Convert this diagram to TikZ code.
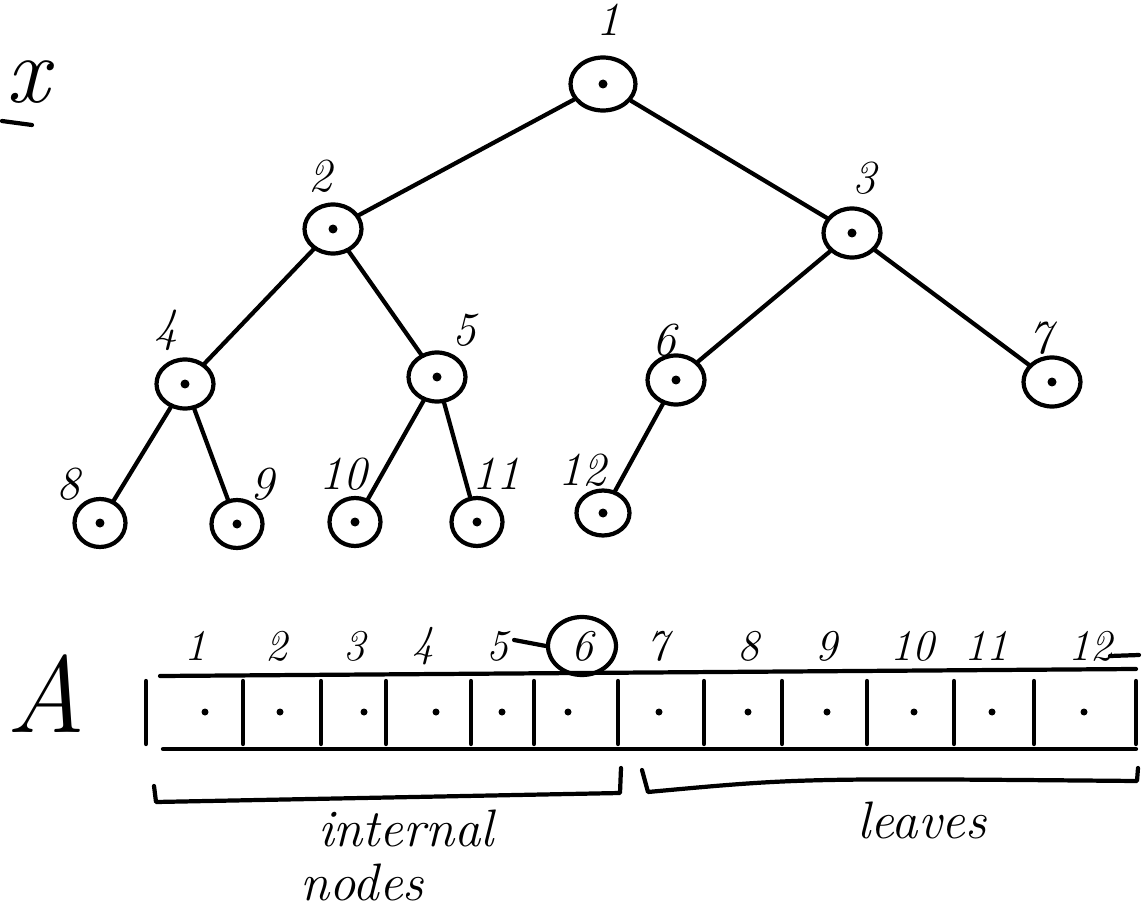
\documentclass[tikz,border=0pt]{standalone}
\usetikzlibrary{shapes.geometric}
\begin{document}
\begin{tikzpicture}[x=0.02cm,y=-0.02cm,
  line width=2.4pt, line cap=round, line join=round,
  treenode/.style={draw, ellipse, minimum width=1.14cm, minimum height=0.98cm, inner sep=0pt},
  rootnode/.style={treenode, minimum width=1.3cm, minimum height=1.06cm},
  leafnode/.style={treenode, minimum width=1.02cm, minimum height=0.96cm},
  lbl/.style={font=\fontsize{27}{30}\selectfont\itshape, inner sep=0pt},
  idx/.style={font=\fontsize{25}{28}\selectfont\itshape, inner sep=0pt},
  word/.style={font=\fontsize{30}{33}\selectfont\itshape, inner sep=0pt},
  edge/.style={draw}]
\useasboundingbox (0,0) rectangle (1144,909);

% variable name, underlined
\node[font=\fontsize{54}{58}\selectfont\itshape, inner sep=0pt] (xv) at (28,82) {x};
\coordinate (xul) at (2,121);
\coordinate (xur) at (32,125);
\draw (xul) -- (xur);

% tree nodes
\node[rootnode] (t1) at (603,84) {};
\node[treenode] (t2) at (333,229) {};
\node[treenode] (t3) at (852,233) {};
\node[treenode] (t4) at (185,384) {};
\node[treenode] (t5) at (437,377) {};
\node[treenode] (t6) at (676,380) {};
\node[treenode] (t7) at (1052,382) {};
\node[leafnode] (t8) at (100,523) {};
\node[leafnode] (t9) at (237,524) {};
\node[leafnode] (t10) at (355,522) {};
\node[leafnode] (t11) at (477,522) {};
\node[leafnode, minimum width=1.06cm, minimum height=0.9cm] (t12) at (603,513) {};
\foreach \i in {1,...,12} \fill (t\i.center) circle (0.09cm);

% edges
\foreach \a/\b in {1/2,1/3,2/4,2/5,3/6,3/7,4/8,4/9,5/10,5/11,6/12}
  \path[edge] (t\a) -- (t\b);

% node numbers
\node[lbl] (n1) at (608,20) {1};
\node[lbl] (n2) at (320,176) {2};
\node[lbl] (n3) at (864,178) {3};
\node[lbl] (n4) at (166,330) {4};
\node[lbl] (n5) at (464,330) {5};
\node[lbl] (n6) at (664,340) {6};
\node[lbl] (n7) at (1040,338) {7};
\node[lbl] (n8) at (68,484) {8};
\node[lbl] (n9) at (262,484) {9};
\node[lbl] (n10) at (343,474) {10};
\node[lbl] (n11) at (496,474) {11};
\node[lbl] (n12) at (582,470) {12};

% array name
\node[font=\fontsize{62}{64}\selectfont\itshape, inner sep=0pt] (arr) at (46,694) {A};

% array cells
\coordinate (tl) at (160,676);
\coordinate (tr) at (1136,669);
\coordinate (bl) at (163,749);
\coordinate (br) at (1136,749);
\draw (tl) -- (tr);
\draw (bl) -- (br);
\foreach \xx in {146,243,321,386,471,534,618,704,782,867,954,1034,1136}
  \draw (\xx,681) -- (\xx,744);
\foreach \xx in {205,280,364,436,502,568,659,748,827,914,992,1084}
  \fill (\xx,712) circle (0.07cm);

% indices
\foreach \k/\xx in {1/195,2/276,3/354,4/423,5/497,7/657,8/748,9/826,10/912,11/986,12/1090}
  \node[idx] (i\k) at (\xx,646) {\k};
\node[idx] (i6) at (582,646) {6};
\node[draw, ellipse, minimum width=1.36cm, minimum height=1.16cm, inner sep=0pt] (c6) at (i6) {};
\draw (i5.east) ++(4,-6) -- (c6.west);
\coordinate (tailstart) at (1110,656);
\coordinate (tailend) at (1139,655);
\draw (tailstart) -- (tailend);

% braces under the array
\coordinate (lb1) at (154,786);
\coordinate (lb2) at (156,802);
\coordinate (lb3) at (620,793);
\coordinate (lb4) at (621,768);
\draw (lb1) -- (lb2) -- (lb3) -- (lb4);
\coordinate (rb1) at (642,770);
\coordinate (rb2) at (648,792);
\coordinate (rb3) at (1137,781);
\coordinate (rb4) at (1138,768);
\draw (rb1) -- (rb2) .. controls (800,778) .. (rb3) -- (rb4);

\node[word] (w1) at (406,828) {internal};
\node[word] (w2) at (362,882) {nodes};
\node[word] (w3) at (922,820) {leaves};
\end{tikzpicture}
\end{document}
